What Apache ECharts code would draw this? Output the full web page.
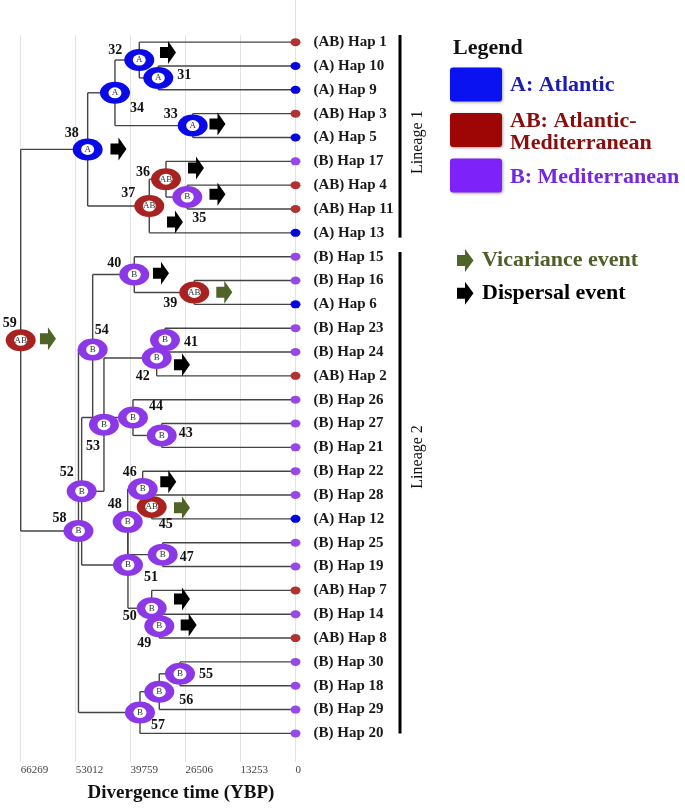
<!DOCTYPE html>
<html><head><meta charset="utf-8">
<script src="https://cdn.jsdelivr.net/npm/echarts@6/dist/echarts.min.js"></script>
<style>html,body{margin:0;padding:0;background:#fff}#c{width:685px;height:812px}</style>
</head><body><div id="c"></div>
<script>
// ---------- DATA ----------
const tickLabels = ['0', '13253', '26506', '39759', '53012', '66269'];
const axisMax = 66269;

const leafNames = ['Hap 1','Hap 10','Hap 9','Hap 3','Hap 5','Hap 17','Hap 4','Hap 11','Hap 13',
  'Hap 15','Hap 16','Hap 6','Hap 23','Hap 24','Hap 2','Hap 26','Hap 27','Hap 21','Hap 22','Hap 28',
  'Hap 12','Hap 25','Hap 19','Hap 7','Hap 14','Hap 8','Hap 30','Hap 18','Hap 29','Hap 20'];
const leafRegions = ['AB','A','A','AB','A','B','AB','AB','A',
  'B','B','A','B','B','AB','B','B','B','B','B',
  'A','B','B','AB','B','AB','B','B','B','B'];

const nodeIds = ['31','32','33','34','35','36','37','38','39','40','41','42','43','44','45',
  '46','47','48','49','50','51','52','53','54','55','56','57','58','59'];
const nodeAges = [33093,37675,24795,43537,26098,31235,35263,50121,24409,38881,31477,33479,32273,39195,34685,
  36855,32031,40473,32851,34685,40401,51569,46190,48915,27859,32851,37507,52340,66269];
const nodeRegions = ['A','A','A','A','B','AB','AB','A','AB','B','B','B','B','B','AB',
  'B','B','B','B','B','B','B','B','B','B','B','B','B','AB'];
const nodeChildren = [
  ['Hap 10','Hap 9'], ['Hap 1','31'], ['Hap 3','Hap 5'], ['32','33'], ['Hap 4','Hap 11'],
  ['Hap 17','35'], ['36','Hap 13'], ['34','37'], ['Hap 16','Hap 6'], ['Hap 15','39'],
  ['Hap 23','Hap 24'], ['41','Hap 2'], ['Hap 27','Hap 21'], ['Hap 26','43'], ['Hap 28','Hap 12'],
  ['Hap 22','45'], ['Hap 25','Hap 19'], ['46','47'], ['Hap 14','Hap 8'], ['Hap 7','49'],
  ['48','50'], ['44','51'], ['42','52'], ['40','53'], ['Hap 30','Hap 18'],
  ['55','Hap 29'], ['56','Hap 20'], ['54','57'], ['38','58']];

// events: [age (YBP), row]
const dispersalEvents = [[30753,0.43],[18814,3.43],[42692,4.48],[24000,5.28],[18814,6.38],[29065,7.55],
  [32441,9.70],[27376,13.53],[30681,18.44],[27376,23.36],[25760,24.45]];
const vicarianceEvents = [[17173,10.49],[59697,12.44],[27376,19.53]];

// ---------- STYLE ----------
const ringColor = {A:'#0a0ae8', AB:'#a82222', B:'#8c38e6'};
const dotColor = {A:'#0505e0', AB:'#b03232', B:'#9848e6'};
const labelOffset = {
  '31':[26,-3],'32':[-24,-10],'33':[-22,-11],'34':[22,16],'35':[12,21],'36':[-23,-7],'37':[-21,-13],'38':[-16,-16],
  '39':[-24,11],'40':[-20,-11],'41':[26,2],'42':[-14,18],'43':[24,-2],'44':[23,-11],'45':[14,17],'46':[-13,-17],
  '47':[24,3],'48':[-13,-17],'49':[-15,17],'50':[-22,8],'51':[23,12],'52':[-15,-19],'53':[-11,22],'54':[9,-19],
  '55':[26,1],'56':[27,9],'57':[18,13],'58':[-19,-13],'59':[-11,-17]};
const SERIF = '"Liberation Serif", "Times New Roman", serif';
const ELLIPSE = 'path://M0,10A10,10 0 1,1 20,10A10,10 0 1,1 0,10Z';
const ARROW = 'path://M0,6L8,6L8,0L16,11.5L8,23L8,17L0,17Z';

// ---------- TREE LAYOUT ----------
const rowOf = {}, ageOf = {};
leafNames.forEach((n, i) => { rowOf[n] = i; ageOf[n] = 0; });
nodeIds.forEach((id, k) => {
  const ch = nodeChildren[k];
  rowOf[id] = ch.reduce((s, c) => s + rowOf[c], 0) / ch.length;
  ageOf[id] = nodeAges[k];
});
const segments = [];
nodeIds.forEach((id, k) => {
  const ch = nodeChildren[k];
  const rows = ch.map(c => rowOf[c]).concat([rowOf[id]]);
  segments.push([ageOf[id], Math.min(...rows), ageOf[id], Math.max(...rows)]);
  ch.forEach(c => segments.push([ageOf[id], rowOf[c], ageOf[c], rowOf[c]]));
});

const chart = echarts.init(document.getElementById('c'), null, {renderer: 'canvas'});
const step = axisMax / 5;

const option = {
  backgroundColor: '#fff',
  animation: false,
  grid: {left: 20.7, right: 389.5, top: 35, bottom: 50},
  xAxis: {
    type: 'value', inverse: true, min: 0, max: axisMax, interval: step,
    axisLine: {show: false}, axisTick: {show: false},
    splitLine: {show: true, lineStyle: {color: '#e3e3e3', width: 1}},
    axisLabel: {
      align: 'left', margin: 3, color: '#444', fontSize: 11, fontFamily: SERIF,
      formatter: v => tickLabels[Math.round(v / step)]
    }
  },
  yAxis: {type: 'value', inverse: true, min: -0.3, max: 30.2, show: false},
  series: [
    {
      type: 'custom', name: 'branches', silent: true,
      data: segments, encode: {x: [0, 2], y: [1, 3]},
      renderItem: (params, api) => {
        const p1 = api.coord([api.value(0), api.value(1)]);
        const p2 = api.coord([api.value(2), api.value(3)]);
        return {type: 'line', shape: {x1: p1[0], y1: p1[1], x2: p2[0], y2: p2[1]},
          style: {stroke: '#444', lineWidth: 1.4}};
      }
    },
    {
      type: 'scatter', name: 'tips', symbol: ELLIPSE, symbolSize: [10, 8],
      data: leafNames.map((n, i) => ({
        value: [0, i], itemStyle: {color: dotColor[leafRegions[i]]},
        label: {formatter: '(' + leafRegions[i] + ') ' + n}
      })),
      itemStyle: {opacity: 1},
      label: {show: true, position: 'right', distance: 13, fontFamily: SERIF, fontWeight: 'bold',
        fontSize: 15, color: '#1a1a1a'}
    },
    {
      type: 'scatter', name: 'nodesOuter', symbol: ELLIPSE, symbolSize: [30, 22], z: 3,
      data: nodeIds.map((id, k) => ({
        value: [ageOf[id], rowOf[id]], itemStyle: {color: ringColor[nodeRegions[k]]},
        label: {formatter: id, offset: labelOffset[id]}
      })),
      itemStyle: {opacity: 1},
      label: {show: true, position: 'inside', fontFamily: SERIF, fontWeight: 'bold', fontSize: 14, color: '#111'}
    },
    {
      type: 'scatter', name: 'nodesInner', symbol: ELLIPSE, symbolSize: [13, 11], z: 4,
      data: nodeIds.map((id, k) => ({value: [ageOf[id], rowOf[id]], label: {formatter: nodeRegions[k]}})),
      itemStyle: {color: '#fff', opacity: 1},
      label: {show: true, position: 'inside', fontFamily: SERIF, fontSize: 9, color: '#333'}
    },
    {
      type: 'scatter', name: 'Dispersal event', symbol: ARROW, symbolSize: [16, 23], z: 5,
      data: dispersalEvents, itemStyle: {color: '#000', opacity: 1}
    },
    {
      type: 'scatter', name: 'Vicariance event', symbol: ARROW, symbolSize: [16, 23], z: 5,
      data: vicarianceEvents, itemStyle: {color: '#506428', opacity: 1}
    }
  ]
};
chart.setOption(option);

// ---------- ANNOTATIONS ----------
const py = r => chart.convertToPixel({yAxisIndex: 0}, r);
const px = a => chart.convertToPixel({xAxisIndex: 0}, a);
const arrowPts = (cx, cy) => [[cx-8,cy-5.5],[cx,cy-5.5],[cx,cy-11.5],[cx+8.5,cy],[cx,cy+11.5],[cx,cy+5.5],[cx-8,cy+5.5]];
const legendText = (x, y, t, c) => ({type: 'text', x, y, style: {text: t, fill: c, font: 'bold 22px ' + SERIF, textVerticalAlign: 'middle'}});
const swatch = (y, c) => ({type: 'rect', shape: {x: 450, y, width: 52, height: 34, r: 3}, style: {fill: c, shadowBlur: 3, shadowColor: 'rgba(0,0,0,0.35)', shadowOffsetX: 1, shadowOffsetY: 1}});

chart.setOption({
  graphic: [
    {type: 'line', shape: {x1: px(0), y1: 0, x2: px(0), y2: 35}, style: {stroke: '#e3e3e3', lineWidth: 1}},
    {type: 'line', shape: {x1: 400, y1: py(-0.3), x2: 400, y2: py(8.2)}, style: {stroke: '#000', lineWidth: 3}},
    {type: 'line', shape: {x1: 400, y1: py(8.8), x2: 400, y2: py(29.0)}, style: {stroke: '#000', lineWidth: 3}},
    {type: 'text', x: 418, y: py(4.2), rotation: Math.PI / 2,
      style: {text: 'Lineage 1', font: '16px ' + SERIF, fill: '#111', textAlign: 'center', textVerticalAlign: 'middle'}},
    {type: 'text', x: 418, y: py(17.4), rotation: Math.PI / 2,
      style: {text: 'Lineage 2', font: '16px ' + SERIF, fill: '#111', textAlign: 'center', textVerticalAlign: 'middle'}},
    legendText(453, 48, 'Legend', '#111'),
    swatch(67.5, '#0a12f2'), swatch(113, '#9e0606'), swatch(158.5, '#7e22fa'),
    legendText(510, 85, 'A: Atlantic', '#1c1cb4'),
    legendText(510, 121, 'AB: Atlantic-', '#8c0c0c'),
    legendText(510, 143, 'Mediterranean', '#8c0c0c'),
    legendText(510, 177.5, 'B: Mediterranean', '#7426e0'),
    {type: 'polygon', shape: {points: arrowPts(465, 260.5)}, style: {fill: '#506428'}},
    {type: 'polygon', shape: {points: arrowPts(465, 293.3)}, style: {fill: '#000'}},
    legendText(482, 260, 'Vicariance event', '#4f5f2a'),
    legendText(482, 293, 'Dispersal event', '#000'),
    {type: 'text', x: 181, y: 793, style: {text: 'Divergence time (YBP)', font: 'bold 19px ' + SERIF, fill: '#111', textAlign: 'center', textVerticalAlign: 'middle'}}
  ]
});
</script>
</body></html>
